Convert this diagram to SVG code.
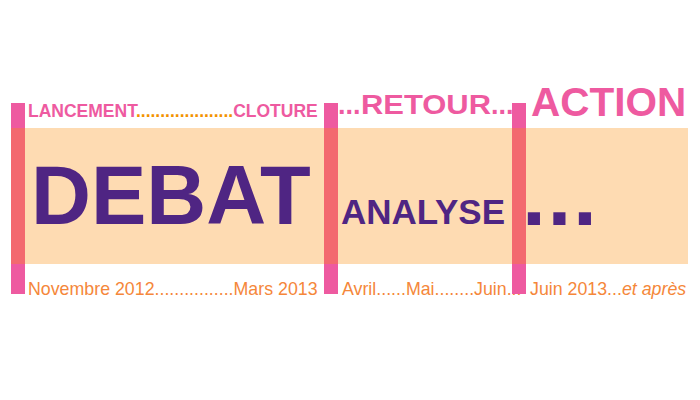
<svg xmlns="http://www.w3.org/2000/svg" width="700" height="400" viewBox="0 0 700 400">
  <style>
    text { font-family: "Liberation Sans", Arial, sans-serif; }
    .head { fill: #EE5AA0; font-weight: bold; }
    .dots { fill: #F39200; }
    .big { fill: #4F2583; font-weight: bold; }
    .date { fill: #F5873A; font-size: 17.8px; }
    .bar { fill: #EE5AA0; }
    .bar-in { fill: #F3696F; }
  </style>
  <rect id="band" x="11" y="128" width="677" height="136" fill="#FEDBB2"/>

  <g id="phase-debat">
    <text class="head" x="28" y="117" font-size="17.5">LANCEMENT<tspan class="dots">....................</tspan>CLOTURE</text>
    <text class="big" x="31" y="224" font-size="83">DEBAT</text>
    <text class="date" x="28" y="295">Novembre 2012................Mars 2013</text>
  </g>

  <g id="phase-analyse">
    <text class="head" x="338" y="114" font-size="27">...</text>
    <text class="head" x="361" y="114" font-size="27" textLength="130" lengthAdjust="spacingAndGlyphs">RETOUR</text>
    <text class="head" x="491" y="114" font-size="27">...</text>
    <text class="big" x="341" y="224" font-size="35">ANALYSE</text>
    <text class="date" x="342" y="295">Avril......Mai........Juin...</text>
  </g>

  <g id="phase-action">
    <text class="head" x="531" y="116" font-size="40.5">ACTION</text>
    <text class="big" x="522" y="225" font-size="86" letter-spacing="1.6">...</text>
    <text class="date" x="530" y="295">Juin 2013...<tspan font-style="italic">et après</tspan></text>
  </g>

  <g id="connectors">
    <rect class="bar" x="11" y="103" width="14" height="191"/>
    <rect class="bar-in" x="11" y="128" width="14" height="136"/>
    <rect class="bar" x="324" y="103" width="14" height="191"/>
    <rect class="bar-in" x="324" y="128" width="14" height="136"/>
    <rect class="bar" x="512" y="103" width="14" height="191"/>
    <rect class="bar-in" x="512" y="128" width="14" height="136"/>
  </g>
</svg>
